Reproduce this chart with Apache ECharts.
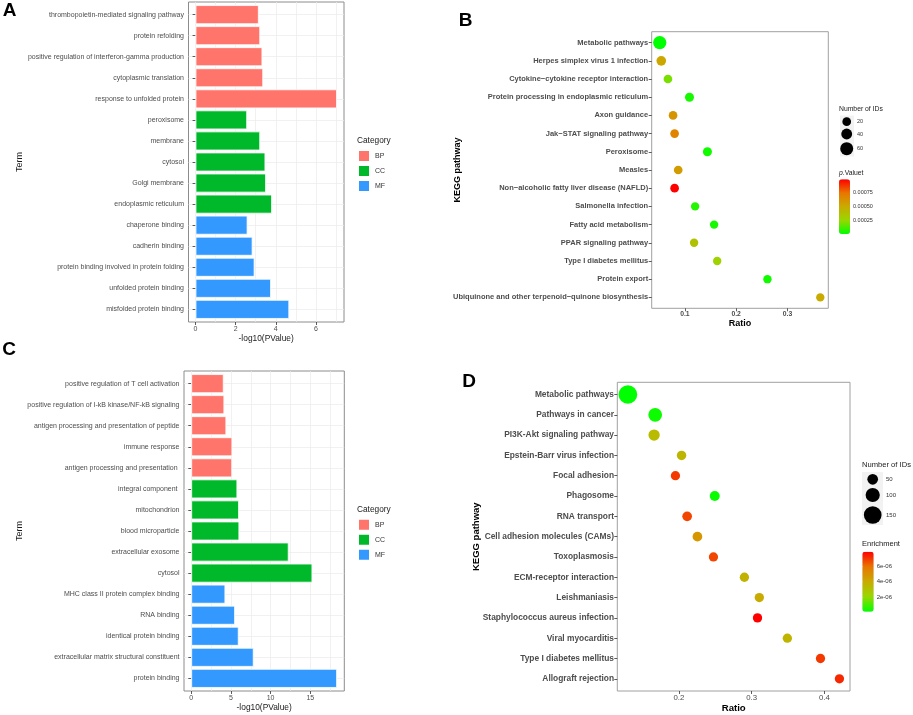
<!DOCTYPE html>
<html lang="en">
<head>
<meta charset="UTF-8"/>
<title>GO / KEGG enrichment</title>
<script src="https://cdn.jsdelivr.net/npm/echarts@6.0.0/dist/echarts.min.js"></script>
<style>
    html, body { margin: 0; padding: 0; background: #fff; }
    #main { width: 913px; height: 715px; }
</style>
</head>
<body>
<div id="main"></div>
<script type="text/javascript">
// ---------- data ----------
// A: GO terms (first set)
var termsA = ['thrombopoietin-mediated signaling pathway', 'protein refolding',
    'positive regulation of interferon-gamma production', 'cytoplasmic translation',
    'response to unfolded protein', 'peroxisome', 'membrane', 'cytosol', 'Golgi membrane',
    'endoplasmic reticulum', 'chaperone binding', 'cadherin binding',
    'protein binding involved in protein folding', 'unfolded protein binding', 'misfolded protein binding'];
var categoryA = ['BP', 'BP', 'BP', 'BP', 'BP', 'CC', 'CC', 'CC', 'CC', 'CC', 'MF', 'MF', 'MF', 'MF', 'MF'];
var logPA = [3.15, 3.22, 3.33, 3.37, 7.05, 2.57, 3.22, 3.48, 3.51, 3.81, 2.59, 2.84, 2.94, 3.76, 4.67];
var ticksA = [0, 2, 4, 6];

// C: GO terms (second set)
var termsC = ['positive regulation of T cell activation', 'positive regulation of I-kB kinase/NF-kB signaling',
    'antigen processing and presentation of peptide', 'immune response', 'antigen processing and presentation ',
    'integral component ', 'mitochondrion', 'blood microparticle', 'extracellular exosome', 'cytosol',
    'MHC class II protein complex binding', 'RNA binding', 'identical protein binding',
    'extracellular matrix structural constituent', 'protein binding'];
var categoryC = ['BP', 'BP', 'BP', 'BP', 'BP', 'CC', 'CC', 'CC', 'CC', 'CC', 'MF', 'MF', 'MF', 'MF', 'MF'];
var logPC = [4.08, 4.16, 4.41, 5.17, 5.15, 5.80, 6.01, 6.05, 12.27, 15.26, 4.29, 5.51, 5.97, 7.86, 18.37];
var ticksC = [0, 5, 10, 15];

var categories = ['BP', 'CC', 'MF'];

// B: KEGG pathways (first set)
var pathwaysB = ['Metabolic pathways', 'Herpes simplex virus 1 infection', 'Cytokine\u2212cytokine receptor interaction',
    'Protein processing in endoplasmic reticulum', 'Axon guidance', 'Jak\u2212STAT signaling pathway', 'Peroxisome',
    'Measles', 'Non\u2212alcoholic fatty liver disease (NAFLD)', 'Salmonella infection', 'Fatty acid metabolism',
    'PPAR signaling pathway', 'Type I diabetes mellitus', 'Protein export',
    'Ubiquinone and other terpenoid\u2212quinone biosynthesis'];
var ratioB = [0.051, 0.054, 0.067, 0.109, 0.077, 0.080, 0.144, 0.087, 0.080, 0.120, 0.157, 0.118, 0.163, 0.261, 0.364];
var countB = [63, 29, 20, 23, 20, 20, 23, 20, 20, 17, 17, 17, 17, 17, 17];
var pvalB = [0.000003, 0.00052, 0.0002, 0.00004, 0.0006, 0.00068, 0.00003, 0.00057, 0.000995,
    0.00006, 0.00004, 0.00038, 0.00028, 0.00003, 0.0005];
var ticksB = [0.1, 0.2, 0.3];
var sizeBreaksB = [20, 40, 60];
var colorBreaksB = [0.00025, 0.0005, 0.00075];

// D: KEGG pathways (second set)
var pathwaysD = ['Metabolic pathways', 'Pathways in cancer', 'PI3K-Akt signaling pathway', 'Epstein-Barr virus infection',
    'Focal adhesion', 'Phagosome', 'RNA transport', 'Cell adhesion molecules (CAMs)', 'Toxoplasmosis',
    'ECM-receptor interaction', 'Leishmaniasis', 'Staphylococcus aureus infection', 'Viral myocarditis',
    'Type I diabetes mellitus', 'Allograft rejection'];
var ratioD = [0.130, 0.1675, 0.166, 0.2037, 0.1953, 0.2493, 0.2114, 0.2255, 0.2475, 0.290, 0.3105, 0.308, 0.349, 0.3945, 0.4205];
var countD = [164, 93, 59, 32, 30, 40, 36, 36, 30, 30, 30, 30, 30, 30, 30];
var enrichD = [0.05e-6, 0.2e-6, 3.3e-6, 3.5e-6, 7.0e-6, 0.15e-6, 6.8e-6, 4.8e-6, 6.8e-6, 3.7e-6, 4.0e-6, 7.95e-6, 3.6e-6, 7.0e-6, 7.3e-6];
var ticksD = [0.2, 0.3, 0.4];
var sizeBreaksD = [50, 100, 150];
var colorBreaksD = [2e-6, 4e-6, 6e-6];

// ---------- styling ----------
var FONT = 'Liberation Sans, Arial, sans-serif';
var catColors = {BP: '#FF756B', CC: '#00B92A', MF: '#3399FF'};
var gradient = ['#00FF00', '#98D700', '#C9AB00', '#E87600', '#FF0000'];
var NONE = 'rgba(0,0,0,0)';

function sizeB(n) { return 6.55 + 0.1075 * n; }
function sizeD(n) { return 7.2 + 0.07 * n; }

var grids = [], xAxes = [], yAxes = [], series = [], graphics = [], visualMaps = [], legends = [];

function addGrid(box, extra) {
    var g = {left: box.left, top: box.top, width: box.width, height: box.height};
    for (var k in extra) g[k] = extra[k];
    grids.push(g);
    return grids.length - 1;
}

// ggplot keeps 0.6 of a step above and below the discrete axis
function plotOf(f) {
    var u = f.height / 15.2;
    return {left: f.left, top: f.top + 0.1 * u, width: f.width, height: 15 * u};
}

function padRange(vals, fromZero) {
    var lo = fromZero ? 0 : Math.min.apply(null, vals);
    var hi = Math.max.apply(null, vals);
    var p = (hi - lo) * 0.05;
    return [lo - p, hi + p];
}

function txt(x, y, text, font, opts) {
    opts = opts || {};
    graphics.push({
        type: 'text', x: x, y: y, rotation: opts.rotation || 0, silent: true,
        style: {text: text, font: font, fill: opts.color || '#000',
            textAlign: opts.align || 'center', textVerticalAlign: 'middle', rich: opts.rich}
    });
}

// an axis that only draws light grid lines at the given values
function gridLineAxis(gi, min, max, values, inverse) {
    return {gridIndex: gi, type: 'value', min: min, max: max, inverse: !!inverse, position: 'bottom',
        axisLine: {show: false},
        axisTick: {show: false, customValues: values, length: 0, lineStyle: {color: NONE}},
        axisLabel: {show: false},
        splitLine: {show: true, lineStyle: {color: '#ebebeb', width: 0.7}}};
}

function barPanel(frame, terms, cats, vals, ticks, step, legendTop) {
    var r = padRange(vals, true);
    var fg = addGrid(frame, {show: true, borderColor: '#8c8c8c', borderWidth: 1, backgroundColor: '#fff'});
    var lg = addGrid(frame);
    var pg = addGrid(plotOf(frame));
    // light grid (ggplot theme_bw): every step on x, each term on y
    var gl = [];
    for (var g = 0; g <= r[1]; g += step) gl.push(g);
    xAxes.push(gridLineAxis(lg, r[0], r[1], gl));
    var gy = gridLineAxis(lg, -0.6, terms.length - 0.4, terms.map(function (t, i) { return i; }), true);
    gy.position = 'left';
    yAxes.push(gy);
    // framed axis carrying ticks and labels
    xAxes.push({gridIndex: fg, type: 'value', min: r[0], max: r[1], position: 'bottom',
        axisLine: {show: false},
        axisTick: {show: true, customValues: ticks, length: 3, lineStyle: {color: '#333', width: 0.8}},
        axisLabel: {customValues: ticks, fontSize: 7, color: '#4d4d4d', margin: 4, fontFamily: FONT},
        splitLine: {show: false}});
    yAxes.push({gridIndex: fg, type: 'value', min: 0, max: 1, show: false});
    var px = xAxes.length;
    xAxes.push({gridIndex: pg, type: 'value', min: r[0], max: r[1], show: false});
    var py = yAxes.length;
    yAxes.push({gridIndex: pg, type: 'category', data: terms, inverse: true,
        axisLine: {show: false},
        axisTick: {show: true, alignWithLabel: true, interval: 0, length: 3, lineStyle: {color: '#333', width: 0.8}},
        axisLabel: {interval: 0, fontSize: 7, color: '#4d4d4d', margin: 4.5, fontFamily: FONT},
        splitLine: {show: false}});
    categories.forEach(function (c) {
        series.push({type: 'bar', name: c, xAxisIndex: px, yAxisIndex: py, stack: 'g' + pg,
            barCategoryGap: '10%', itemStyle: {color: catColors[c], borderColor: '#fff', borderWidth: 0.8},
            data: vals.map(function (v, i) { return cats[i] === c ? v : '-'; })});
    });
    legends.push({orient: 'vertical', left: 357, top: legendTop, padding: 0, itemGap: 1,
        itemWidth: 12, itemHeight: 12, icon: 'rect', data: categories, selectedMode: false,
        textStyle: {fontSize: 7, color: '#333', fontFamily: FONT, padding: [0, 0, 0, 0]}});
}

function dotPanel(frame, names, ratio, count, colorVal, ticks, sizeFn, o) {
    var r = padRange(ratio, false);
    var fg = addGrid(frame, {show: true, borderColor: '#a0a0a0', borderWidth: 1, backgroundColor: '#fff'});
    var pg = addGrid(plotOf(frame));
    xAxes.push({gridIndex: fg, type: 'value', min: r[0], max: r[1], position: 'bottom',
        axisLine: {show: false},
        axisTick: {show: true, customValues: ticks, length: 3, lineStyle: {color: '#333', width: 0.8}},
        axisLabel: {customValues: ticks, fontSize: o.tickFont, fontWeight: o.tickWeight, color: '#4d4d4d',
            margin: o.tickMargin, fontFamily: FONT},
        splitLine: {show: false}});
    yAxes.push({gridIndex: fg, type: 'value', min: 0, max: 1, show: false});
    var px = xAxes.length;
    xAxes.push({gridIndex: pg, type: 'value', min: r[0], max: r[1], show: false});
    var py = yAxes.length;
    yAxes.push({gridIndex: pg, type: 'category', data: names, inverse: true,
        axisLine: {show: false},
        axisTick: {show: true, alignWithLabel: true, interval: 0, length: 3, lineStyle: {color: '#333', width: 0.8}},
        axisLabel: {interval: 0, fontSize: o.labelFont, fontWeight: 'bold', color: '#4d4d4d',
            margin: o.labelMargin, fontFamily: FONT},
        splitLine: {show: false}});
    var si = series.length;
    series.push({type: 'scatter', xAxisIndex: px, yAxisIndex: py,
        symbolSize: function (v) { return sizeFn(v[2]); },
        itemStyle: {opacity: 1},
        data: ratio.map(function (x, i) { return [x, i, count[i], colorVal[i]]; })});
    var cmin = Math.min.apply(null, colorVal), cmax = Math.max.apply(null, colorVal);
    var cb = o.colorbar;
    visualMaps.push({type: 'continuous', seriesIndex: si, dimension: 3, min: cmin, max: cmax,
        inRange: {color: gradient}, calculable: false, hoverLink: false, text: null, padding: 0,
        left: cb.left, top: cb.top, itemWidth: cb.width, itemHeight: cb.height, orient: 'vertical'});
    // colorbar labels from an axis sharing the bar's scale
    var cg = addGrid(cb);
    xAxes.push({gridIndex: cg, type: 'value', min: 0, max: 1, show: false});
    yAxes.push({gridIndex: cg, type: 'value', min: cmin, max: cmax, position: 'right', z: 10,
        axisLine: {show: false},
        axisTick: {show: true, inside: true, customValues: o.colorBreaks, length: 2, lineStyle: {color: '#fff', width: 0.8}},
        axisLabel: {customValues: o.colorBreaks, formatter: o.colorFormat, fontSize: o.legendLabelFont,
            color: '#333', margin: 3, fontFamily: FONT},
        splitLine: {show: false}});
    // size legend
    var sl = o.sizeLegend;
    graphics.push({type: 'rect', silent: true, shape: {x: sl.bg[0], y: sl.bg[1], width: sl.bg[2], height: sl.bg[3]},
        style: {fill: '#f2f2f2'}});
    o.sizeBreaks.forEach(function (b, i) {
        graphics.push({type: 'circle', silent: true, shape: {cx: sl.cx, cy: sl.cy[i], r: sizeFn(b) / 2},
            style: {fill: '#000'}});
        txt(sl.lx, sl.cy[i], String(b), o.legendLabelFont + 'px ' + FONT, {align: 'left', color: '#333'});
    });
}

function expLabel(v) {
    var e = Math.floor(Math.log10(v) + 1e-9);
    var m = Math.round(v / Math.pow(10, e));
    return m + 'e' + (e < 0 ? '-' : '+') + (Math.abs(e) < 10 ? '0' : '') + Math.abs(e);
}

// ---------- panels ----------
barPanel({left: 188.5, top: 2, width: 155.5, height: 320}, termsA, categoryA, logPA, ticksA, 1, 149);
barPanel({left: 184, top: 371, width: 160.3, height: 320}, termsC, categoryC, logPC, ticksC, 2.5, 517.7);

dotPanel({left: 651.7, top: 31.7, width: 176.6, height: 276.6}, pathwaysB, ratioB, countB, pvalB, ticksB, sizeB, {
    tickFont: 6.8, tickWeight: 'bold', tickMargin: 2.5, labelFont: 7.5, labelMargin: 3.5,
    colorbar: {left: 839, top: 179.3, width: 11, height: 54.7},
    colorBreaks: colorBreaksB, colorFormat: function (v) { return v.toFixed(5); },
    legendLabelFont: 5.5, sizeBreaks: sizeBreaksB,
    sizeLegend: {bg: [840, 115.5, 14, 41], cx: 846.7, cy: [121.7, 134, 148.7], lx: 857}
});
dotPanel({left: 617.3, top: 382.3, width: 232.7, height: 308.7}, pathwaysD, ratioD, countD, enrichD, ticksD, sizeD, {
    tickFont: 7.8, tickWeight: 'normal', tickMargin: 3, labelFont: 8.4, labelMargin: 3.3,
    colorbar: {left: 862.3, top: 551.7, width: 11.4, height: 60},
    colorBreaks: colorBreaksD, colorFormat: expLabel,
    legendLabelFont: 6, sizeBreaks: sizeBreaksD,
    sizeLegend: {bg: [862, 472, 21, 53], cx: 872.7, cy: [479.3, 495, 515], lx: 886}
});

// ---------- titles and labels ----------
var B19 = 'bold 19px ' + FONT;
txt(9.5, 11, 'A', B19);
txt(465.5, 21, 'B', B19);
txt(9, 350, 'C', B19);
txt(469, 382, 'D', B19);

txt(19.5, 162, 'Term', '9px ' + FONT, {rotation: Math.PI / 2, color: '#1a1a1a'});
txt(19.5, 531, 'Term', '9px ' + FONT, {rotation: Math.PI / 2, color: '#1a1a1a'});
txt(266.2, 339, '-log10(PValue)', '8.4px ' + FONT, {color: '#1a1a1a'});
txt(264.2, 708, '-log10(PValue)', '8.4px ' + FONT, {color: '#1a1a1a'});
txt(357, 141, 'Category', '8.3px ' + FONT, {align: 'left', color: '#1a1a1a'});
txt(357, 509.7, 'Category', '8.3px ' + FONT, {align: 'left', color: '#1a1a1a'});

txt(458, 170, 'KEGG pathway', 'bold 9px ' + FONT, {rotation: Math.PI / 2});
txt(476, 536.7, 'KEGG pathway', 'bold 9.5px ' + FONT, {rotation: Math.PI / 2});
txt(740, 323.3, 'Ratio', 'bold 9px ' + FONT);
txt(733.7, 708, 'Ratio', 'bold 9.6px ' + FONT);

txt(839, 109.3, 'Number of IDs', '6.8px ' + FONT, {align: 'left', color: '#1a1a1a'});
txt(839, 173.3, '{i|p}.Valuet', '6.8px ' + FONT, {align: 'left', color: '#1a1a1a',
    rich: {i: {fontStyle: 'italic', fontSize: 6.8, fontFamily: FONT, fill: '#1a1a1a'}}});
txt(862, 465, 'Number of IDs', '7.6px ' + FONT, {align: 'left', color: '#1a1a1a'});
txt(862, 544.3, 'Enrichment', '7.5px ' + FONT, {align: 'left', color: '#1a1a1a'});

var myChart = echarts.init(document.getElementById('main'));
myChart.setOption({
    animation: false,
    backgroundColor: '#fff',
    textStyle: {fontFamily: FONT},
    grid: grids,
    xAxis: xAxes,
    yAxis: yAxes,
    legend: legends,
    visualMap: visualMaps,
    series: series,
    graphic: graphics
});
</script>
</body>
</html>
